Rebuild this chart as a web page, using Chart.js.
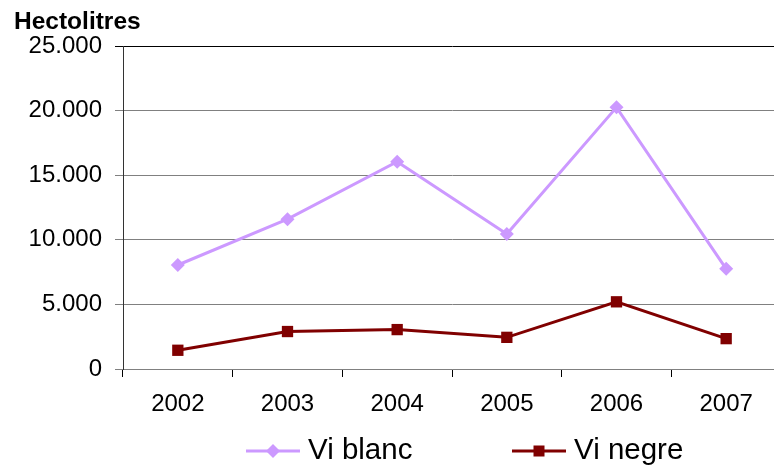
<!DOCTYPE html>
<html>
<head>
<meta charset="utf-8">
<script src="https://cdn.jsdelivr.net/npm/chart.js"></script>
<style>
  html, body { margin: 0; padding: 0; background: #fff; overflow: hidden; }
  #wrap { width: 790px; height: 466px; }
</style>
</head>
<body>
<div id="wrap"><canvas id="chart" width="790" height="466"></canvas></div>
<script>
// values
const years = ['2002', '2003', '2004', '2005', '2006', '2007'];
const viBlanc = [8050, 11600, 16050, 10450, 20250, 7750];
const viNegre = [1450, 2900, 3050, 2450, 5200, 2350];
const yTicks = [0, 5000, 10000, 15000, 20000, 25000];

const FONT = '"Liberation Sans", Arial, sans-serif';
const BLANC = '#cc99ff';
const NEGRE = '#800000';

function fmt(v) {
  return String(v).replace(/\B(?=(\d{3})+(?!\d))/g, '.');
}

function diamond(ctx, x, y, r, color) {
  ctx.beginPath();
  ctx.moveTo(x, y - r);
  ctx.lineTo(x + r, y);
  ctx.lineTo(x, y + r);
  ctx.lineTo(x - r, y);
  ctx.closePath();
  ctx.fillStyle = color;
  ctx.fill();
}

function square(ctx, x, y, h, color) {
  ctx.fillStyle = color;
  ctx.fillRect(x - h, y - h, h * 2, h * 2);
}

// title above the y axis and the legend under the chart
const extras = {
  id: 'extras',
  afterDraw(chart) {
    const ctx = chart.ctx;
    ctx.save();
    ctx.fillStyle = '#000';
    ctx.font = 'bold 24.5px ' + FONT;
    ctx.textBaseline = 'middle';
    ctx.textAlign = 'left';
    ctx.fillText('Hectolitres', 14, 22);

    const ly = 451;
    ctx.lineWidth = 3;
    ctx.strokeStyle = BLANC;
    ctx.beginPath(); ctx.moveTo(246, ly); ctx.lineTo(300, ly); ctx.stroke();
    diamond(ctx, 273, ly, 7, BLANC);
    ctx.strokeStyle = NEGRE;
    ctx.beginPath(); ctx.moveTo(512, ly); ctx.lineTo(566, ly); ctx.stroke();
    square(ctx, 539, ly, 5.5, NEGRE);

    ctx.fillStyle = '#000';
    ctx.font = '29.5px ' + FONT;
    ctx.fillText('Vi blanc', 308, ly);
    ctx.fillText('Vi negre', 574, ly);
    ctx.restore();
  }
};

new Chart(document.getElementById('chart'), {
  type: 'line',
  data: {
    labels: years,
    datasets: [
      {
        label: 'Vi blanc',
        data: viBlanc,
        borderColor: BLANC,
        backgroundColor: BLANC,
        borderWidth: 3,
        pointStyle: 'rectRot',
        pointRadius: 7,
        pointBorderWidth: 0,
        tension: 0
      },
      {
        label: 'Vi negre',
        data: viNegre,
        borderColor: NEGRE,
        backgroundColor: NEGRE,
        borderWidth: 3,
        pointStyle: 'rect',
        pointRadius: 8,
        pointBorderWidth: 0,
        tension: 0
      }
    ]
  },
  options: {
    responsive: false,
    animation: false,
    layout: { padding: { top: 46, left: 0, right: 9, bottom: 0 } },
    plugins: {
      legend: { display: false },
      tooltip: { enabled: false }
    },
    scales: {
      x: {
        offset: true,
        grid: {
          offset: true,
          drawOnChartArea: false,
          color: '#000',
          tickLength: 8
        },
        border: { color: '#808080', width: 1 },
        ticks: { color: '#000', font: { family: FONT, size: 24 }, padding: 13 },
        afterFit(s) { s.height = 97; }
      },
      y: {
        min: 0,
        max: 25000,
        afterBuildTicks(s) { s.ticks = yTicks.map(v => ({ value: v })); },
        grid: {
          color: c => c.tick && c.tick.value === 25000 ? '#000' : '#808080',
          lineWidth: 1,
          tickLength: 8
        },
        border: { color: '#333', width: 1 },
        ticks: {
          color: '#000',
          font: { family: FONT, size: 24 },
          padding: 13,
          callback: v => fmt(v)
        },
        afterFit(s) { s.width = 123; }
      }
    }
  },
  plugins: [extras]
});
</script>
</body>
</html>
